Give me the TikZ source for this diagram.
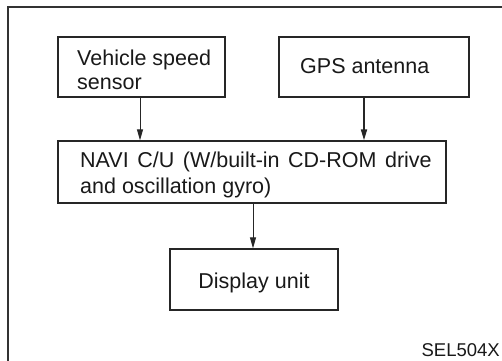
\documentclass[tikz,border=0pt]{standalone}
\usepackage{fontspec}
\setmainfont{Liberation Sans}
\usetikzlibrary{arrows.meta}
\begin{document}
\begin{tikzpicture}[x=1pt,y=-1pt,
  box/.style={draw=black!85,line width=1.3pt,inner sep=0pt},
  txt/.style={inner sep=0pt,font=\fontsize{21.5}{25.5}\selectfont,align=left,text=black!90},
  conn/.style={draw=black!85,line width=1pt,-{Triangle[length=11pt,width=6pt]}},
  thick conn/.style={conn,line width=1.8pt}]
\useasboundingbox (0,0) rectangle (502,360);
\clip (0,0) rectangle (502,360);
\fill[white] (0,0) rectangle (502,360);
\draw[black!80,line width=1.6pt] (8,370) -- (8,7) -- (515,7);
% boxes
\node[box,minimum width=167pt,minimum height=60pt] (vss) at (141.5,67) {};
\node[box,minimum width=190pt,minimum height=60pt] (gps) at (374,67) {};
\node[box,minimum width=388pt,minimum height=62pt] (navi) at (252,172) {};
\node[box,minimum width=168pt,minimum height=61pt] (disp) at (254,279.5) {};
% texts
\node[txt,anchor=base west] (t1) at (77,65) {Vehicle speed};
\node[txt,anchor=base west] (t2) at (77,89) {sensor};
\node[txt,anchor=base west] (t3) at (300,73) {GPS antenna};
\node[txt,anchor=base west] (t4) at (80,167) {\makebox[351.5pt][s]{NAVI C/U (W/built-in CD-ROM drive}};
\node[txt,anchor=base west] (t5) at (80,193) {and oscillation gyro)};
\node[txt,anchor=base] (t6) at (254,288.5) {Display unit};
\node[inner sep=0pt,anchor=base east,font=\fontsize{18.5}{20}\selectfont,text=black!90] (sel) at (500,356.5) {SEL504X};
% connectors
\draw[conn] (vss.south -| 140,0) -- (navi.north -| 140,0);
\draw[thick conn] (vss.south -| 364,0) -- (navi.north -| 364,0);
\draw[conn] (navi.south -| 253,0) -- (disp.north -| 253,0);
\end{tikzpicture}
\end{document}
